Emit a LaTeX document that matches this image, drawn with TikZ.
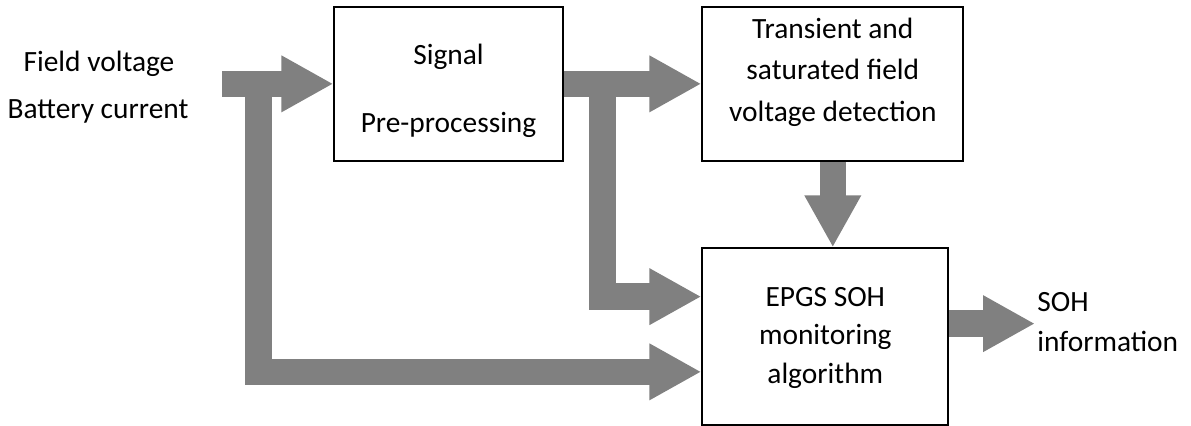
\documentclass[tikz,border=0pt]{standalone}
\usepackage{fontspec}
\setmainfont{Carlito}
\usetikzlibrary{arrows.meta,calc}
\definecolor{arrgray}{RGB}{128,128,128}
\begin{document}
\begin{tikzpicture}[x=0.5pt,y=-0.5pt,
  box/.style={draw, line width=0.95pt, inner sep=0},
  lbl/.style={font=\fontsize{14.7}{17}\selectfont, inner sep=0, anchor=base},
  flow/.style={draw=arrgray, line width=13.25pt, line join=miter,
    -{Triangle[length=26pt,width=26.5pt]}}]
\useasboundingbox (0,0) rectangle (1191,426);

% boxes
\node[box, minimum width=114.2pt, minimum height=77.15pt] (sig) at (448.5,83.85) {};
\node[box, minimum width=130.5pt, minimum height=77.15pt] (tra) at (832.8,83.85) {};
\node[box, minimum width=123pt, minimum height=88.35pt] (epgs) at (825.3,336.65) {};

% connector end points
\coordinate (inS) at (222,83.85);
\coordinate (brS) at (602.7,83.85);
\coordinate (brT) at ($(epgs.west)+(0,-40)$);
\coordinate (fbS) at (258.3,83.85);
\coordinate (fbT) at ($(epgs.west)+(0,35.2)$);
\coordinate (outS) at ($(epgs.east)+(0,-13)$);
\coordinate (outT) at (1035,323.65);

% connectors
\draw[flow] (brS) -- (brS |- brT) -- (brT);
\draw[flow] (fbS) -- (fbS |- fbT) -- (fbT);
\draw[flow] (inS) -- (sig.west);
\draw[flow] (sig.east) -- (tra.west);
\draw[flow] (tra.south) -- (tra.south |- epgs.north);
\draw[flow] (outS) -- (outT);

% texts
\node[lbl] (fv) at (99,72) {Field voltage};
\node[lbl] (bc) at (98,119) {Battery current};
\node[lbl] (s1) at (448.5,65) {Signal};
\node[lbl] (s2) at (448.5,132.3) {Pre-processing};
\node[lbl] (t1) at (832.8,38.3) {Transient and};
\node[lbl] (t2) at (832.8,80) {saturated field};
\node[lbl] (t3) at (832.8,121.7) {voltage detection};
\node[lbl] (e1) at (825.3,306.7) {EPGS SOH};
\node[lbl] (e2) at (825.3,345) {monitoring};
\node[lbl] (e3) at (825.3,383.3) {algorithm};
\node[lbl, anchor=base west] (o1) at (1037,311.7) {SOH};
\node[lbl, anchor=base west] (o2) at (1037,351.7) {information};
\end{tikzpicture}
\end{document}
